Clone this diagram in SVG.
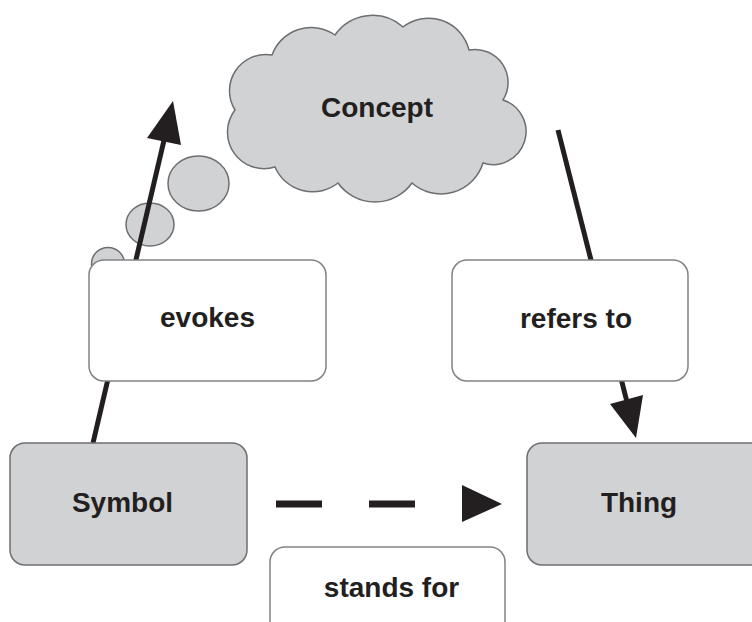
<svg xmlns="http://www.w3.org/2000/svg" width="752" height="622" viewBox="0 0 752 622">
<style>
.lbl{font-family:"Liberation Sans",Arial,Helvetica,sans-serif;font-weight:bold;font-size:28px;fill:#231f20;text-anchor:middle}
.gray{fill:#d1d2d4;stroke:#6d6e71;stroke-width:1.5}
.white{fill:#ffffff;stroke:#808285;stroke-width:1.5}
.line{fill:none;stroke:#231f20;stroke-width:5}
.head{fill:#231f20}
</style>
<rect width="752" height="622" fill="#ffffff"/>
<g id="concept">
<path class="gray" d="M272,55 A41.7,41.7 0 0 1 335,35 A45.8,45.8 0 0 1 403,27 A41.6,41.6 0 0 1 469,50 A33,33 0 0 1 503,100 A33,33 0 0 1 483,163 A44,44 0 0 1 412,183 A45.5,45.5 0 0 1 338,183 A41,41 0 0 1 275,167 A36.5,36.5 0 0 1 235,110 A36.3,36.3 0 0 1 272,55 Z"/>
<text class="lbl" x="377" y="117">Concept</text>
</g>
<g id="bubbles">
<ellipse class="gray" cx="198.5" cy="183.5" rx="30.5" ry="27.5"/>
<ellipse class="gray" cx="150" cy="224.5" rx="24" ry="21.5"/>
<circle class="gray" cx="108" cy="264" r="16.5"/>
</g>
<g id="connectors">
<line class="line" x1="93" y1="443" x2="165" y2="136"/>
<polygon class="head" points="173,101 147,138 181,145"/>
<line class="line" x1="558" y1="130" x2="627" y2="402"/>
<polygon class="head" points="636,438 610,404 643,395"/>
<path fill="none" stroke="#231f20" stroke-width="7" stroke-dasharray="46 47" d="M276,504 H416"/>
<polygon class="head" points="462,485 502,504 462,522"/>
</g>
<g id="evokes">
<rect class="white" x="89" y="260" width="237" height="121" rx="15"/>
<text class="lbl" x="207.5" y="327">evokes</text>
</g>
<g id="refers-to">
<rect class="white" x="452" y="260" width="236" height="121" rx="15"/>
<text class="lbl" x="576" y="328">refers to</text>
</g>
<g id="symbol">
<rect class="gray" x="10" y="443" width="237" height="122" rx="15"/>
<text class="lbl" x="122.5" y="512">Symbol</text>
</g>
<g id="thing">
<rect class="gray" x="527" y="443" width="245" height="122" rx="15"/>
<text class="lbl" x="639" y="512">Thing</text>
</g>
<g id="stands-for">
<rect class="white" x="270" y="547" width="235" height="100" rx="15"/>
<text class="lbl" x="391.5" y="597">stands for</text>
</g>
</svg>
